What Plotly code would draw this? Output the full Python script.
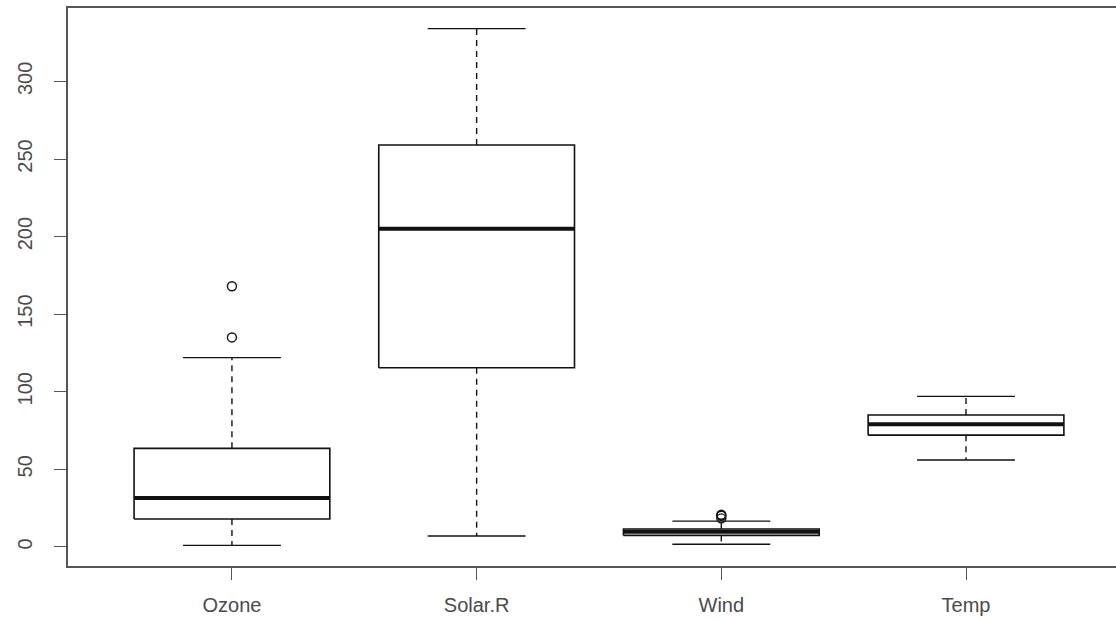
import plotly.graph_objects as go

# Summary statistics per variable (airquality), as drawn by a classic boxplot
variables = ["Ozone", "Solar.R", "Wind", "Temp"]
lower_whisker = [1, 7, 1.7, 56]
q1 = [18, 115.5, 7.4, 72]
median = [31.5, 205, 9.7, 79]
q3 = [63.5, 259, 11.5, 85]
upper_whisker = [122, 334, 16.6, 97]
outlier_var = ["Ozone", "Ozone", "Wind", "Wind", "Wind"]
outlier_val = [135, 168, 18.4, 20.1, 20.7]
y_ticks = [0, 50, 100, 150, 200, 250, 300]

BOX_HALF = 0.4
CAP_HALF = 0.2
INK = "#111111"
AXIS = "#555555"
LABEL = "#4a4a4a"

pos = {v: i + 1 for i, v in enumerate(variables)}

box_x, box_y = [], []
med_x, med_y = [], []
wh_x, wh_y = [], []
cap_x, cap_y = [], []
for v, lo, a, m, b, hi in zip(variables, lower_whisker, q1, median, q3, upper_whisker):
    c = pos[v]
    box_x += [c - BOX_HALF, c + BOX_HALF, c + BOX_HALF, c - BOX_HALF, c - BOX_HALF, None]
    box_y += [a, a, b, b, a, None]
    med_x += [c - BOX_HALF, c + BOX_HALF, None]
    med_y += [m, m, None]
    wh_x += [c, c, None, c, c, None]
    wh_y += [b, hi, None, a, lo, None]
    cap_x += [c - CAP_HALF, c + CAP_HALF, None, c - CAP_HALF, c + CAP_HALF, None]
    cap_y += [hi, hi, None, lo, lo, None]

fig = go.Figure()
fig.add_trace(go.Scatter(x=wh_x, y=wh_y, mode="lines",
                         line=dict(color=INK, width=1.4, dash="6px,5px"), hoverinfo="skip"))
fig.add_trace(go.Scatter(x=cap_x, y=cap_y, mode="lines",
                         line=dict(color=INK, width=1.4), hoverinfo="skip"))
fig.add_trace(go.Scatter(x=box_x, y=box_y, mode="lines",
                         line=dict(color=INK, width=1.6), hoverinfo="skip"))
fig.add_trace(go.Scatter(x=med_x, y=med_y, mode="lines",
                         line=dict(color=INK, width=4), hoverinfo="skip"))
fig.add_trace(go.Scatter(x=[pos[v] for v in outlier_var], y=outlier_val, mode="markers",
                         marker=dict(symbol="circle-open", size=9, color=INK,
                                     line=dict(width=1.4, color=INK))))

data_lo = min(min(lower_whisker), min(outlier_val))
data_hi = max(max(upper_whisker), max(outlier_val))
pad = 0.04 * (data_hi - data_lo)

fig.update_layout(
    width=1116, height=620,
    margin=dict(l=68, r=0, t=8, b=54),
    paper_bgcolor="white", plot_bgcolor="white",
    showlegend=False,
    font=dict(family="Liberation Sans, Arial, sans-serif", color=LABEL),
    xaxis=dict(
        range=[0.33, 4.613],
        tickvals=[pos[v] for v in variables], ticktext=variables,
        showgrid=False, zeroline=False, automargin=False,
        showline=True, linecolor=AXIS, linewidth=1.5, mirror=True,
        ticks="outside", ticklen=12, tickwidth=1.3, tickcolor=AXIS,
        ticklabelstandoff=8,
        tickfont=dict(size=20, color=LABEL),
    ),
    yaxis=dict(
        range=[data_lo - pad, data_hi + pad],
        tickvals=y_ticks,
        showgrid=False, zeroline=False, automargin=False,
        showline=True, linecolor=AXIS, linewidth=1.5,
        ticks="outside", ticklen=12, tickwidth=1.3, tickcolor=AXIS,
        tickangle=-90, ticklabelstandoff=14,
        tickfont=dict(size=20, color=LABEL),
    ),
)

fig.write_html("out.html")
